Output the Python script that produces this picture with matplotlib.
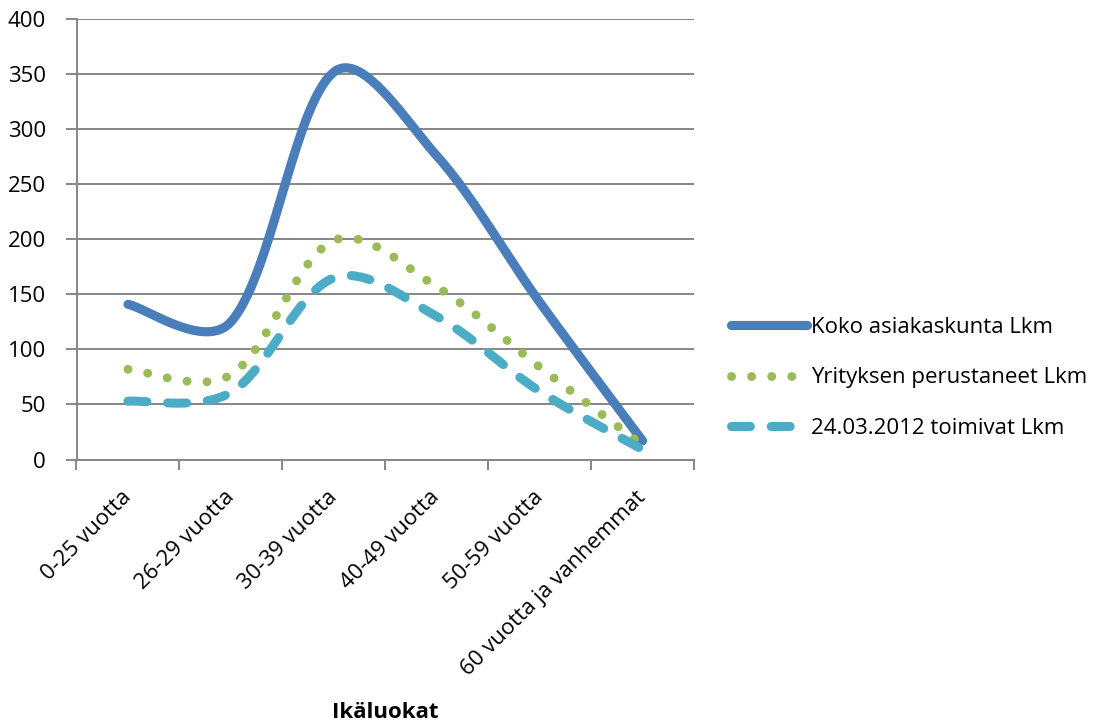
import numpy as np
import matplotlib
matplotlib.use("Agg")
import matplotlib.pyplot as plt
from matplotlib.lines import Line2D

plt.rcParams['font.family'] = ['Open Sans', 'DejaVu Sans']

categories = ["0-25 vuotta", "26-29 vuotta", "30-39 vuotta", "40-49 vuotta",
              "50-59 vuotta", "60 vuotta ja vanhemmat"]
koko = [141, 125, 352, 276, 143, 17]
perustaneet = [82, 77, 199, 157, 84, 13]
toimivat = [53, 61, 165, 130, 62, 9]
series_names = ["Koko asiakaskunta Lkm", "Yrityksen perustaneet Lkm",
                "24.03.2012 toimivat Lkm"]
y_ticks = [0, 50, 100, 150, 200, 250, 300, 350, 400]
x_title = "Ikäluokat"

BLUE = "#4A7EBB"
GREEN = "#9BBB59"
TEAL = "#4BACC6"
GRID = "#868686"

W, H = 1108, 726
fig = plt.figure(figsize=(W / 100, H / 100), dpi=100)
ax = fig.add_axes([76.5 / W, 1 - 459.5 / H, (694 - 76.5) / W, (459.5 - 19.3) / H])
n = len(categories)
ax.set_xlim(-0.5, n - 0.5)
ax.set_ylim(0, 400)


def smooth_path(ax, xs, ys, steps=40):
    """Cubic Bezier smoothing in display space; the tangent at each point
    follows its neighbours and each arm is weighted by its chord length."""
    pts = ax.transData.transform(np.column_stack([xs, ys]))
    m = len(pts)
    d = np.linalg.norm(np.diff(pts, axis=0), axis=1)
    arm_in = np.zeros_like(pts)
    arm_out = np.zeros_like(pts)
    for i in range(m):
        if i == 0:
            arm_out[i] = (pts[1] - pts[0]) / 6.0
        elif i == m - 1:
            arm_in[i] = (pts[i] - pts[i - 1]) / 6.0
        else:
            tan = (pts[i + 1] - pts[i - 1]) / 6.0
            s = d[i - 1] + d[i]
            arm_in[i] = tan * np.sqrt(2 * d[i - 1] / s)
            arm_out[i] = tan * np.sqrt(2 * d[i] / s)
    out = [pts[0]]
    t = np.linspace(0, 1, steps)[1:, None]
    for i in range(m - 1):
        p1, p2 = pts[i], pts[i + 1]
        c1 = p1 + arm_out[i]
        c2 = p2 - arm_in[i + 1]
        seg = ((1 - t) ** 3) * p1 + 3 * ((1 - t) ** 2) * t * c1 \
            + 3 * (1 - t) * t ** 2 * c2 + t ** 3 * p2
        out.extend(seg)
    return ax.transData.inverted().transform(np.array(out))


x = np.arange(n)
fig.canvas.draw()

for yt in y_ticks[1:]:
    ax.axhline(yt, color=GRID, lw=1.4, zorder=0)

styles = [
    dict(color=BLUE, lw=6.6, linestyle="-", solid_capstyle="round"),
    dict(color=GREEN, lw=6.4, linestyle=(0, (0.01, 2.25)), dash_capstyle="round"),
    dict(color=TEAL, lw=6.5, linestyle=(0, (2.1, 2.3)), dash_capstyle="round"),
]
series = [koko, perustaneet, toimivat]
handles = []
for vals, st, name in zip(series, styles, series_names):
    p = smooth_path(ax, x, vals)
    ax.plot(p[:, 0], p[:, 1], zorder=3, **st)
    handles.append(Line2D([], [], label=name, **st))

for side in ("top", "right"):
    ax.spines[side].set_visible(False)
for side in ("left", "bottom"):
    ax.spines[side].set_color(GRID)
    ax.spines[side].set_linewidth(1.4)

ax.set_yticks(y_ticks)
ax.set_yticklabels([str(v) for v in y_ticks], fontsize=16)
ax.set_xticks(np.arange(-0.5, n, 1.0))
ax.set_xticklabels([])
ax.set_xticks(x, minor=True)
ax.set_xticklabels(categories, minor=True, rotation=45, ha="right",
                   va="center", rotation_mode="anchor", fontsize=16)
ax.tick_params(axis="x", which="minor", length=0, pad=25)
ax.tick_params(axis="x", which="major", length=7, color=GRID, width=1.4)
ax.tick_params(axis="y", length=8, color=GRID, width=1.4, pad=14)

fig.text(385 / W, 1 - 713 / H, x_title, fontsize=16, fontweight="bold",
         ha="center", va="center")

fig.legend(handles=handles, loc="center left",
           bbox_to_anchor=(731 / W, 1 - 378 / H), frameon=False,
           fontsize=16, handlelength=3.4, handletextpad=0.2,
           labelspacing=1.32, borderpad=0, borderaxespad=0)

fig.savefig("out.png", dpi=100)
